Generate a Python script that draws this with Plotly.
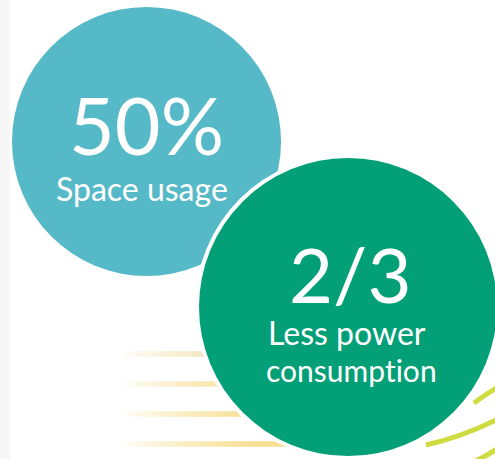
import plotly.graph_objects as go

# ---- data ----
stat_values = ["50%", "2/3"]
stat_labels = ["Space usage", "Less power<br>consumption"]
circle_colors = ["#55B9C7", "#03A077"]

W, H = 495, 459
fig = go.Figure()

shapes = []
# left gray strip
shapes.append(dict(type="rect", x0=0, x1=10, y0=0, y1=H, fillcolor="#F7F7F7", line_width=0, layer="below"))

# yellow gradient lines
line_ys = [354, 384, 414, 444]
x_start, x_end = 118, 330
nseg = 40
def mix(c1, c2, t):
    return "rgb(%d,%d,%d)" % tuple(round(a + (b - a) * t) for a, b in zip(c1, c2))
for i, ly in enumerate(line_ys):
    end_col = (240, 222, 170) if i == 0 else (247, 224, 150)
    for k in range(nseg):
        t = k / (nseg - 1)
        xa = x_start + (x_end - x_start) * k / nseg
        xb = x_start + (x_end - x_start) * (k + 1) / nseg + 0.5
        shapes.append(dict(type="rect", x0=xa, x1=xb, y0=ly - 2.8, y1=ly + 2.8,
                           fillcolor=mix((255, 255, 255), end_col, min(1, t * 1.6) ** 0.8), line_width=0))

# yellow-green swooshes
for p in ["M 474,403 Q 486,394 500,386",
          "M 426,445 Q 462,437 500,418",
          "M 474,462 Q 488,455 500,447"]:
    shapes.append(dict(type="path", path=p, line=dict(color="#CEDC42", width=5)))

# blue circle
bc, br = (146.5, 141.5), 134.5
shapes.append(dict(type="circle", x0=bc[0] - br, x1=bc[0] + br, y0=bc[1] - br, y1=bc[1] + br,
                   fillcolor=circle_colors[0], line_width=0))
# green circle with white ring
gc, gr = (348, 307), 149
ring = 4
shapes.append(dict(type="circle", x0=gc[0] - gr - ring, x1=gc[0] + gr + ring, y0=gc[1] - gr - ring,
                   y1=gc[1] + gr + ring, fillcolor="white", line_width=0))
shapes.append(dict(type="circle", x0=gc[0] - gr, x1=gc[0] + gr, y0=gc[1] - gr, y1=gc[1] + gr,
                   fillcolor=circle_colors[1], line_width=0))

font = "Lato, 'Open Sans', sans-serif"
nolig = '<span style="font-variant-ligatures:none;letter-spacing:0.01px">%s</span>'
green_lines = stat_labels[1].split("<br>")
annotations = [
    dict(x=146, y=124, text=stat_values[0], font=dict(family=font, size=79, color="white"),
         showarrow=False, xanchor="center", yanchor="middle"),
    dict(x=142, y=188, text=stat_labels[0], font=dict(family=font, size=32, color="white"),
         showarrow=False, xanchor="center", yanchor="middle"),
    dict(x=350, y=273, text=stat_values[1], font=dict(family=font, size=76, color="white"),
         showarrow=False, xanchor="center", yanchor="middle"),
    dict(x=347, y=332, text=nolig % green_lines[0], font=dict(family=font, size=32, color="white"),
         showarrow=False, xanchor="center", yanchor="middle"),
    dict(x=351, y=369.5, text=nolig % green_lines[1], font=dict(family=font, size=30, color="white"),
         showarrow=False, xanchor="center", yanchor="middle"),
]

fig.update_layout(
    width=W, height=H, margin=dict(l=0, r=0, t=0, b=0),
    paper_bgcolor="white", plot_bgcolor="white",
    xaxis=dict(range=[0, W], visible=False, fixedrange=True),
    yaxis=dict(range=[H, 0], visible=False, fixedrange=True),
    shapes=shapes, annotations=annotations, showlegend=False,
)
fig.write_html("out.html", config={"displayModeBar": False},
               post_script="document.body.style.margin='0';document.body.style.overflow='hidden';")
